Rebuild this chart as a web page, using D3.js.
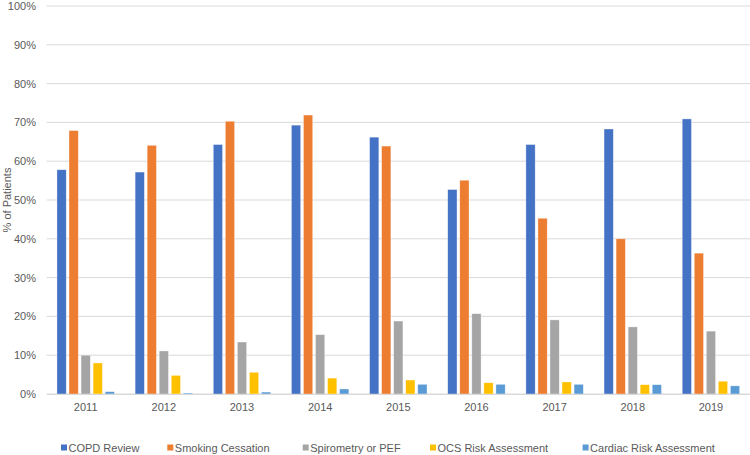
<!DOCTYPE html>
<html><head><meta charset="utf-8">
<script src="https://cdn.jsdelivr.net/npm/d3@7"></script>
<style>body{margin:0;background:#fff}svg{display:block;font-family:"Liberation Sans",Arial,sans-serif}</style>
</head><body><svg id="c" width="750" height="455"></svg>
<script>
const years = ["2011","2012","2013","2014","2015","2016","2017","2018","2019"];
const seriesNames = ["COPD Review","Smoking Cessation","Spirometry or PEF","OCS Risk Assessment","Cardiac Risk Assessment"];
const colors = ["#4472C4","#ED7D31","#A5A5A5","#FFC000","#5B9BD5"];
const copdReview = [57.8,57.2,64.3,69.3,66.2,52.7,64.3,68.3,70.9];
const smokingCessation = [67.9,64.1,70.3,71.9,63.9,55.1,45.3,40.0,36.3];
const spirometry = [10.0,11.1,13.4,15.3,18.8,20.7,19.1,17.3,16.2];
const ocsRisk = [8.0,4.8,5.6,4.1,3.6,2.9,3.1,2.4,3.3];
const cardiacRisk = [0.6,0.25,0.5,1.3,2.5,2.5,2.5,2.4,2.1];
const yTicks = [0,10,20,30,40,50,60,70,80,90,100];

const seriesValues = [copdReview,smokingCessation,spirometry,ocsRisk,cardiacRisk];
const svg = d3.select("#c");
const mLeft = 46.6, mRight = 750, mTop = 6, mBottom = 394;

const x0 = d3.scaleBand().domain(years).range([mLeft,mRight]).paddingInner(0.265).paddingOuter(0.1325);
const x1 = d3.scaleBand().domain(seriesNames).range([0,x0.bandwidth()]).paddingInner(0.23);
const y = d3.scaleLinear().domain([0,100]).range([mBottom,mTop]);

// gridlines
svg.append("g").selectAll("line").data(yTicks).join("line")
  .attr("x1",mLeft).attr("x2",mRight)
  .attr("y1",d=>y(d)).attr("y2",d=>y(d))
  .attr("stroke","#D9D9D9").attr("stroke-width",1);

// y axis labels
const yAxis = d3.axisLeft(y).tickValues(yTicks).tickFormat(d=>d+"%").tickSize(0).tickPadding(0);
const ya = svg.append("g").attr("transform",`translate(${36},0)`).call(yAxis);
ya.select(".domain").remove();
ya.selectAll("text").attr("font-size",11).attr("fill","#595959").attr("font-family","Liberation Sans, Arial, sans-serif");

// bars
const groups = svg.append("g").selectAll("g").data(years).join("g")
  .attr("transform",d=>`translate(${x0(d)},0)`);
groups.selectAll("rect").data((d,i)=>seriesNames.map((s,k)=>({s,k,v:seriesValues[k][i]}))).join("rect")
  .attr("x",d=>x1(d.s)).attr("width",x1.bandwidth())
  .attr("y",d=>y(d.v)).attr("height",d=>mBottom-y(d.v))
  .attr("fill",d=>colors[d.k]).attr("stroke","#fff").attr("stroke-width",0.6).attr("stroke-opacity",0.6);

// x axis
const xAxis = d3.axisBottom(x0).tickSize(0).tickPadding(9);
const xa = svg.append("g").attr("transform",`translate(0,${mBottom})`).call(xAxis);
xa.select(".domain").attr("stroke","#D9D9D9");
xa.selectAll("text").attr("font-size",11).attr("fill","#595959").attr("font-family","Liberation Sans, Arial, sans-serif");

// y title
svg.append("text").attr("transform",`translate(10.5,${(mTop+mBottom)/2}) rotate(-90)`)
  .attr("text-anchor","middle").attr("font-size",11).attr("fill","#595959").text("% of Patients");

// legend
const legendX = [61,167.3,302.7,430,582.6];
const lg = svg.append("g").selectAll("g").data(seriesNames).join("g")
  .attr("transform",(d,i)=>`translate(${legendX[i]},447.5)`);
lg.append("rect").attr("x",0).attr("y",-3).attr("width",6).attr("height",6).attr("fill",(d,i)=>colors[i]);
lg.append("text").attr("x",7.5).attr("y",4).attr("font-size",11).attr("fill","#595959").text(d=>d);
</script></body></html>
